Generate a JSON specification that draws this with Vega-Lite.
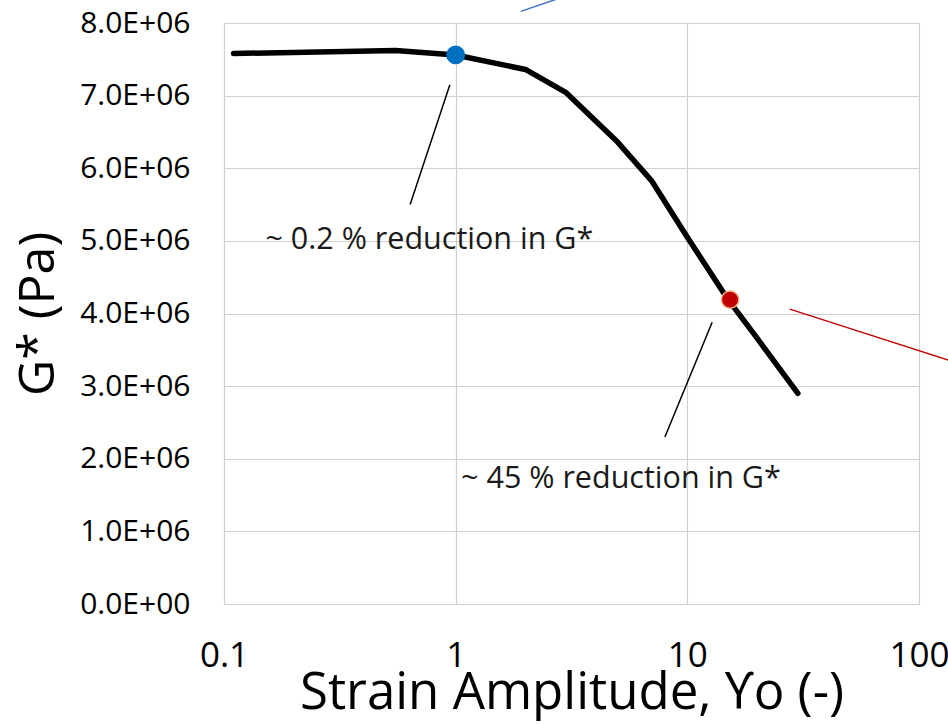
{
  "$schema": "https://vega.github.io/schema/vega-lite/v6.json",
  "autosize": {"type": "none"},
  "width": 695,
  "height": 581,
  "padding": {"left": 224, "top": 23, "right": 29, "bottom": 120},
  "background": "white",
  "config": {"view": {"stroke": null}, "font": "Open Sans"},
  "datasets": {
    "curve": [
      {"strain": 0.11, "G": 7580000},
      {"strain": 0.55, "G": 7620000},
      {"strain": 1, "G": 7560000},
      {"strain": 2, "G": 7360000},
      {"strain": 3, "G": 7040000},
      {"strain": 5, "G": 6360000},
      {"strain": 7, "G": 5830000},
      {"strain": 10, "G": 5050000},
      {"strain": 15, "G": 4190000},
      {"strain": 20, "G": 3660000},
      {"strain": 30, "G": 2900000}
    ],
    "points": [
      {"strain": 1, "G": 7560000, "kind": "blue"},
      {"strain": 15.3, "G": 4190000, "kind": "red"}
    ],
    "segments": [
      {"seg": "lead1", "xa": 0.944, "ya": 7150000, "xb": 0.636, "yb": 5500000},
      {"seg": "lead2", "xa": 12.8, "ya": 3880000, "xb": 8.0, "yb": 2300000},
      {"seg": "blue", "xa": 1.91, "ya": 8160000, "xb": 3.8, "yb": 8485000},
      {"seg": "red", "xa": 27.7, "ya": 4060000, "xb": 136, "yb": 3350000}
    ],
    "labels": [
      {"strain": 0.77, "G": 5010000, "text": "~ 0.2 % reduction in G*"},
      {"strain": 5.17, "G": 1720000, "text": "~ 45 % reduction in  G*"}
    ]
  },
  "layer": [
    {
      "data": {"name": "curve"},
      "mark": {"type": "line", "color": "black", "strokeWidth": 5.5, "strokeCap": "round", "strokeJoin": "round", "clip": false},
      "encoding": {
        "x": {
          "field": "strain", "type": "quantitative",
          "scale": {"type": "log", "domain": [0.1, 100]},
          "axis": {
            "values": [0.1, 1, 10, 100], "format": "~g",
            "title": "Strain Amplitude, ϒo (-)",
            "titleFontSize": 51, "titleFontWeight": "normal", "titleColor": "#000000",
            "titlePadding": -5,
            "labelFontSize": 35, "labelColor": "#000000", "labelPadding": 34,
            "labelFlush": false,
            "ticks": false, "domain": false,
            "gridColor": "#d0d0d0", "gridWidth": 1.2
          }
        },
        "y": {
          "field": "G", "type": "quantitative",
          "scale": {"domain": [0, 8000000], "nice": false, "zero": true},
          "axis": {
            "values": [0, 1000000, 2000000, 3000000, 4000000, 5000000, 6000000, 7000000, 8000000],
            "labelExpr": "datum.value == 0 ? '0.0E+00' : format(datum.value / 1000000, '.1f') + 'E+06'",
            "title": "G* (Pa)",
            "titleFontSize": 50, "titleFontWeight": "normal", "titleColor": "#000000",
            "titlePadding": 16,
            "labelFontSize": 30, "labelColor": "#000000", "labelPadding": 34,
            "labelFlush": false,
            "ticks": false, "domain": false,
            "gridColor": "#d0d0d0", "gridWidth": 1.2
          }
        }
      }
    },
    {
      "data": {"name": "segments"},
      "mark": {"type": "rule", "clip": false},
      "encoding": {
        "x": {"field": "xa", "type": "quantitative"},
        "y": {"field": "ya", "type": "quantitative"},
        "x2": {"field": "xb"},
        "y2": {"field": "yb"},
        "color": {
          "field": "seg", "type": "nominal",
          "scale": {"domain": ["lead1", "lead2", "blue", "red"], "range": ["#000000", "#000000", "#4472c4", "#c00000"]},
          "legend": null
        },
        "strokeWidth": {
          "field": "seg", "type": "nominal",
          "scale": {"domain": ["lead1", "lead2", "blue", "red"], "range": [1.5, 1.5, 2.2, 2.8]},
          "legend": null
        }
      }
    },
    {
      "data": {"name": "points"},
      "mark": {"type": "point", "filled": true, "opacity": 1, "size": 300, "clip": false},
      "encoding": {
        "x": {"field": "strain", "type": "quantitative"},
        "y": {"field": "G", "type": "quantitative"},
        "fill": {
          "field": "kind", "type": "nominal",
          "scale": {"domain": ["blue", "red"], "range": ["#0070c0", "#c00000"]},
          "legend": null
        },
        "stroke": {
          "field": "kind", "type": "nominal",
          "scale": {"domain": ["blue", "red"], "range": ["#0070c0", "#f4b183"]},
          "legend": null
        },
        "strokeWidth": {"value": 1.5}
      }
    },
    {
      "data": {"name": "labels"},
      "mark": {"type": "text", "fontSize": 30.5, "color": "#1a1a1a", "align": "center", "baseline": "middle", "clip": false},
      "encoding": {
        "x": {"field": "strain", "type": "quantitative"},
        "y": {"field": "G", "type": "quantitative"},
        "text": {"field": "text"}
      }
    }
  ]
}
